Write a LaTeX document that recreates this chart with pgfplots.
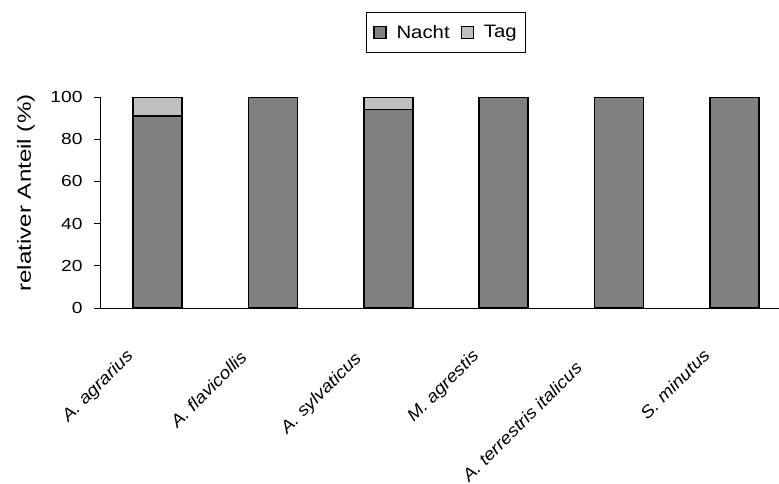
\documentclass[border=0pt]{standalone}
\usepackage{fontspec}
\setmainfont{Liberation Sans}
\usepackage{graphicx}
\usepackage{pgfplots}
\pgfplotsset{compat=1.18}
\definecolor{nacht}{HTML}{808080}
\definecolor{tag}{HTML}{C0C0C0}
\newcommand{\xl}[1]{\makebox[1.25\width][l]{\scalebox{1.12}[1]{#1}}}
\newcommand{\yl}[1]{{\fontsize{16}{19}\selectfont\scalebox{1.2}[1]{#1}}\hspace*{8pt}}
\begin{document}
\begin{tikzpicture}
\useasboundingbox (-100pt,-175pt) rectangle (679pt,308pt);
\clip (-100pt,-175pt) rectangle (679pt,308pt);
\begin{axis}[
  at={(0pt,0pt)}, anchor=south west,
  scale only axis,
  width=692pt, height=211pt,
  ybar stacked,
  bar width=49pt,
  xmin=-0.5, xmax=5.5,
  ymin=0, ymax=100,
  ytick={0,20,...,100},
  yticklabel={\yl{\pgfmathprintnumber[assume math mode=true]{\tick}}},
  xtick={0,...,5},
  xticklabels={\xl{A. agrarius}, \xl{A. flavicollis}, \xl{A. sylvaticus}, \xl{M. agrestis}, \xl{A. terrestris italicus}, \xl{S. minutus}},
  x tick label style={rotate=45, anchor=north east, font=\fontsize{17}{20}\selectfont\itshape, inner sep=0pt, xshift=-24pt, yshift=-1pt},
  major x tick style={draw=none},
  extra x ticks={-0.5,0.5,...,5.5},
  extra x tick labels={},
  extra x tick style={tick style={draw=black, line width=0.8pt}, grid=none},
  ytick style={draw=black, line width=0.8pt},
  tick align=outside,
  major tick length=6pt,
  tick pos=left,
  axis x line*=bottom,
  axis y line*=left,
  axis line style={line width=0.8pt, black, -},
  ylabel={\scalebox{1.27}[1]{relativer Anteil (\%)}},
  ylabel style={font=\fontsize{19}{22}\selectfont, at={(axis description cs:-0.1069,0.545)}, anchor=center},
  legend columns=2,
  legend style={at={(0.5,1)}, anchor=south, yshift=44pt, draw=black, line width=0.8pt,
    font=\fontsize{18}{21}\selectfont, inner xsep=7pt, inner ysep=11pt,
    /tikz/every odd column/.append style={column sep=8pt},
    /tikz/every even column/.append style={column sep=9pt}},
  legend image code/.code={\draw[#1, line width=1.2pt] (0pt,-6pt) rectangle (12pt,6pt);},
]
\addplot[fill=nacht, draw=black, line width=1.5pt] coordinates {(0,91) (1,100) (2,94) (3,100) (4,100) (5,100)};
\addplot[fill=tag, draw=black, line width=1.5pt] coordinates {(0,9) (1,0) (2,6) (3,0) (4,0) (5,0)};
\legend{\scalebox{1.13}[1]{Nacht}, \scalebox{1.13}[1]{Tag}}
\end{axis}
\end{tikzpicture}
\end{document}
